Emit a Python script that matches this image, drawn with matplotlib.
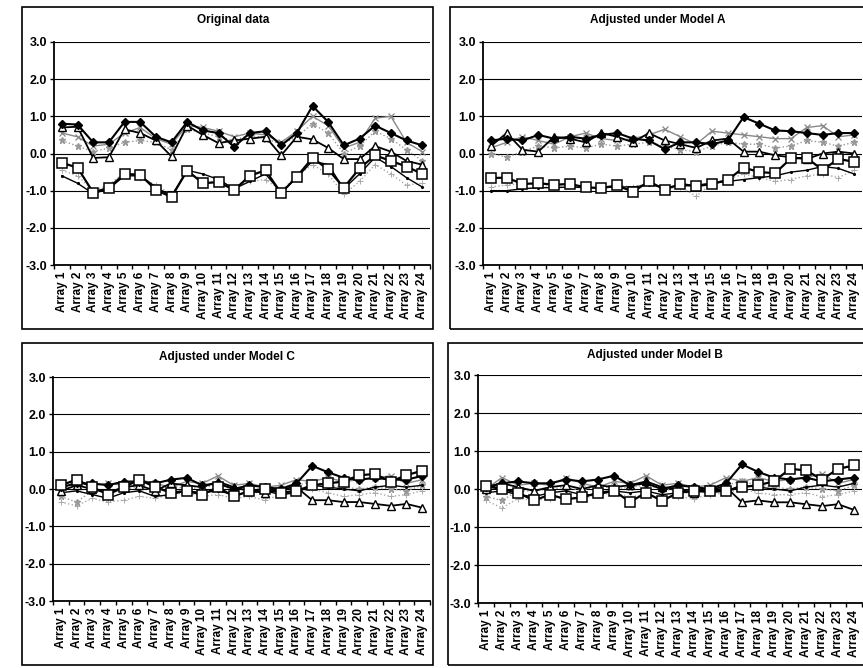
import numpy as np
import matplotlib
matplotlib.use("Agg")
import matplotlib.pyplot as plt
from matplotlib.patches import Rectangle

plt.rcParams['font.family'] = ['Liberation Sans', 'DejaVu Sans']

arrays = ["Array %d" % i for i in range(1, 25)]
yticks = [-3.0, -2.0, -1.0, 0.0, 1.0, 2.0, 3.0]

## Original data
orig_diamond = [0.80, 0.78, 0.30, 0.30, 0.85, 0.85, 0.45, 0.30, 0.85, 0.62, 0.55, 0.18,
                0.55, 0.60, 0.22, 0.55, 1.28, 0.85, 0.22, 0.40, 0.75, 0.55, 0.35, 0.22]
orig_triangle = [0.70, 0.72, -0.12, -0.10, 0.65, 0.55, 0.35, -0.08, 0.75, 0.50, 0.28, 0.35,
                 0.40, 0.45, -0.05, 0.45, 0.38, 0.15, -0.15, -0.15, 0.20, 0.05, -0.20, -0.30]
orig_square = [-0.25, -0.38, -1.05, -0.92, -0.55, -0.57, -0.98, -1.17, -0.46, -0.80, -0.77, -0.98,
               -0.60, -0.45, -1.07, -0.62, -0.12, -0.43, -0.92, -0.40, -0.05, -0.20, -0.35, -0.55]
orig_thin = [-0.60, -0.80, -1.08, -0.95, -0.60, -0.60, -0.90, -1.15, -0.45, -0.55, -0.70, -0.95,
             -0.75, -0.55, -1.05, -0.65, -0.20, -0.30, -0.95, -0.55, -0.10, -0.35, -0.65, -0.90]
orig_plus = [-0.45, -0.60, -1.00, -0.85, -0.50, -0.65, -0.85, -1.10, -0.50, -0.70, -0.80, -0.90,
             -0.75, -0.70, -1.00, -0.60, -0.30, -0.55, -1.10, -0.75, -0.30, -0.55, -0.85, -0.80]
orig_cross = [0.55, 0.45, 0.20, 0.25, 0.55, 0.70, 0.40, 0.25, 0.75, 0.70, 0.60, 0.45,
              0.55, 0.50, 0.30, 0.60, 1.00, 0.75, 0.15, 0.30, 0.95, 1.00, 0.30, 0.05]
orig_star = [0.35, 0.20, 0.05, 0.15, 0.30, 0.35, 0.30, 0.10, 0.65, 0.55, 0.45, 0.35,
             0.50, 0.40, 0.25, 0.45, 0.80, 0.55, 0.00, 0.20, 0.60, 0.40, 0.10, -0.20]

## Adjusted under Model A
a_diamond = [0.35, 0.40, 0.35, 0.50, 0.40, 0.45, 0.40, 0.50, 0.55, 0.40, 0.35, 0.12,
             0.30, 0.30, 0.25, 0.35, 0.98, 0.80, 0.62, 0.60, 0.55, 0.50, 0.55, 0.55]
a_triangle = [0.20, 0.55, 0.10, 0.05, 0.45, 0.40, 0.30, 0.55, 0.45, 0.30, 0.55, 0.35,
              0.25, 0.15, 0.35, 0.40, 0.05, 0.05, -0.05, -0.10, -0.15, 0.00, 0.05, 0.00]
a_square = [-0.66, -0.65, -0.82, -0.80, -0.84, -0.82, -0.91, -0.93, -0.86, -1.03, -0.75, -0.97,
            -0.82, -0.88, -0.82, -0.71, -0.38, -0.50, -0.53, -0.13, -0.12, -0.44, -0.15, -0.22]
a_thin = [-1.00, -1.00, -0.95, -0.92, -0.92, -0.90, -0.92, -0.92, -0.90, -0.90, -0.85, -0.90,
          -0.88, -0.85, -0.80, -0.75, -0.70, -0.65, -0.60, -0.50, -0.45, -0.35, -0.40, -0.55]
a_plus = [-0.90, -0.85, -0.80, -0.85, -0.90, -0.85, -0.95, -0.90, -0.85, -0.90, -0.80, -0.95,
          -0.90, -1.15, -0.80, -0.70, -0.55, -0.65, -0.75, -0.70, -0.60, -0.55, -0.65, -0.45]
a_cross = [0.15, 0.30, 0.45, 0.35, 0.25, 0.45, 0.55, 0.40, 0.35, 0.40, 0.50, 0.65,
           0.45, 0.25, 0.60, 0.55, 0.50, 0.45, 0.40, 0.40, 0.70, 0.75, 0.45, 0.50]
a_star = [0.00, -0.10, 0.05, 0.20, 0.15, 0.20, 0.15, 0.25, 0.20, 0.25, 0.30, 0.20,
          0.10, 0.05, 0.20, 0.30, 0.25, 0.25, 0.15, 0.20, 0.35, 0.30, 0.20, 0.30]

## Adjusted under Model C
c_diamond = [0.05, 0.15, 0.15, 0.10, 0.20, 0.20, 0.15, 0.25, 0.30, 0.10, 0.15, 0.00,
             0.10, 0.05, 0.00, 0.15, 0.62, 0.45, 0.30, 0.25, 0.30, 0.25, 0.25, 0.35]
c_triangle = [-0.05, 0.10, 0.00, -0.10, 0.05, 0.10, -0.05, 0.15, 0.10, 0.05, 0.20, 0.05,
              -0.05, -0.10, 0.00, 0.05, -0.30, -0.30, -0.35, -0.35, -0.40, -0.45, -0.40, -0.50]
c_square = [0.10, 0.25, 0.05, -0.15, 0.05, 0.25, 0.05, -0.10, -0.05, -0.15, 0.05, -0.20,
            -0.05, 0.00, -0.10, -0.05, 0.10, 0.15, 0.20, 0.37, 0.40, 0.20, 0.37, 0.49]
c_thin = [-0.10, -0.05, -0.15, -0.25, -0.10, -0.05, -0.20, -0.15, -0.05, -0.10, -0.05, -0.15,
          -0.10, -0.05, -0.15, -0.10, 0.10, 0.05, 0.00, -0.05, 0.05, 0.10, 0.05, 0.10]
c_plus = [-0.35, -0.45, -0.25, -0.35, -0.30, -0.20, -0.25, -0.15, -0.10, -0.20, -0.15, -0.25,
          -0.20, -0.30, -0.15, -0.10, 0.00, -0.10, -0.20, -0.15, -0.10, -0.20, -0.15, -0.05]
c_cross = [0.00, 0.20, 0.10, 0.15, 0.10, 0.25, 0.15, 0.05, 0.20, 0.15, 0.35, 0.10,
           0.15, 0.05, 0.10, 0.25, 0.20, 0.30, 0.20, 0.25, 0.30, 0.35, 0.15, 0.25]
c_star = [-0.20, -0.35, -0.05, -0.05, 0.00, 0.05, -0.05, 0.10, 0.00, 0.05, 0.10, 0.00,
          -0.05, -0.15, 0.05, 0.10, 0.20, 0.10, 0.05, 0.00, 0.05, 0.00, -0.05, 0.10]

## Adjusted under Model B
b_diamond = [0.05, 0.15, 0.20, 0.15, 0.15, 0.25, 0.20, 0.25, 0.35, 0.10, 0.15, 0.00,
             0.10, 0.05, 0.00, 0.15, 0.65, 0.45, 0.30, 0.25, 0.30, 0.20, 0.25, 0.30]
b_triangle = [0.00, 0.15, 0.05, -0.05, 0.05, 0.10, 0.00, 0.10, 0.05, 0.10, 0.20, 0.05,
              0.00, -0.10, 0.00, 0.05, -0.35, -0.30, -0.35, -0.35, -0.40, -0.45, -0.40, -0.55]
b_square = [0.07, 0.00, -0.10, -0.30, -0.15, -0.27, -0.22, -0.10, -0.05, -0.34, -0.10, -0.31,
            -0.10, -0.05, -0.05, -0.05, 0.05, 0.10, 0.20, 0.53, 0.49, 0.25, 0.53, 0.62]
b_thin = [-0.10, -0.05, -0.15, -0.20, -0.10, -0.05, -0.15, -0.15, -0.05, -0.10, -0.05, -0.15,
          -0.10, -0.05, -0.10, -0.05, 0.10, 0.05, 0.00, -0.05, 0.05, 0.10, 0.05, 0.15]
b_plus = [-0.30, -0.50, -0.25, -0.30, -0.25, -0.20, -0.25, -0.15, -0.10, -0.20, -0.15, -0.25,
          -0.20, -0.25, -0.15, -0.10, 0.00, -0.10, -0.15, -0.15, -0.10, -0.20, -0.15, -0.05]
b_cross = [0.00, 0.30, 0.10, 0.15, 0.10, 0.30, 0.15, 0.05, 0.20, 0.15, 0.35, 0.10,
           0.15, 0.05, 0.10, 0.30, 0.20, 0.30, 0.20, 0.25, 0.30, 0.40, 0.15, 0.25]
b_star = [-0.20, -0.30, -0.05, -0.05, 0.00, 0.05, -0.05, 0.10, 0.00, 0.05, 0.10, 0.00,
          -0.05, -0.15, 0.05, 0.10, 0.20, 0.10, 0.05, 0.00, 0.05, 0.00, -0.05, 0.10]

W, H = 863, 668
fig = plt.figure(figsize=(W / 100, H / 100), dpi=100)


def add_panel(box, area, title, title_xy, series):
    # box and area are (left, top, right, bottom) in pixels
    l, t, r, b = box
    fig.patches.append(Rectangle((l / W, 1 - b / H), (r - l) / W, (b - t) / H,
                                 transform=fig.transFigure, fill=False, lw=1.2, ec='black'))
    fig.text(title_xy[0] / W, 1 - title_xy[1] / H, title, ha='center', va='center',
             fontsize=8.5, fontweight='bold')
    l, t, r, b = area
    ax = fig.add_axes([l / W, 1 - b / H, (r - l) / W, (b - t) / H])
    x = np.arange(24)
    diamond, triangle, square, thin, plus, cross, star = series
    ax.plot(x, plus, color='#aaaaaa', lw=1.0, ls=':', marker='+', ms=4, mew=0.7)
    ax.plot(x, star, color='#999999', lw=1.0, ls=':', marker='*', ms=4.5)
    ax.plot(x, cross, color='#888888', lw=1.0, marker='x', ms=4.5, mew=0.9)
    ax.plot(x, thin, color='black', lw=1.0, marker='.', ms=2.5)
    ax.plot(x, triangle, color='black', lw=1.3, marker='^', ms=5.5, mfc='white', mec='black')
    ax.plot(x, diamond, color='black', lw=1.5, marker='D', ms=4.5, mfc='black')
    ax.plot(x, square, color='black', lw=1.6, marker='s', ms=6.5, mfc='white', mec='black', mew=1.1)

    ax.set_xlim(-0.5, 23.5)
    ax.set_ylim(-3, 3)
    ax.set_yticks(yticks)
    ax.set_yticklabels(["%.1f" % v for v in yticks], fontsize=9, fontweight='bold')
    ax.set_xticks(x)
    ax.set_xticklabels(arrays, rotation=90, fontsize=8.5, fontweight='bold')
    ax.set_xticks(np.arange(-0.5, 24, 1), minor=True)
    ax.tick_params(axis='x', which='major', length=0, pad=5)
    ax.tick_params(axis='x', which='minor', length=3, width=1, direction='out')
    ax.tick_params(axis='y', length=3, width=1, pad=2)
    ax.grid(axis='y', color='black', lw=0.8)
    ax.set_axisbelow(True)
    for s in ('top', 'right'):
        ax.spines[s].set_visible(False)
    for s in ('left', 'bottom'):
        ax.spines[s].set_linewidth(1.3)
    return ax


add_panel((22, 7, 433, 329), (54, 42, 430, 265), "Original data", (233, 20),
          (orig_diamond, orig_triangle, orig_square, orig_thin, orig_plus, orig_cross, orig_star))
add_panel((450, 7, 875, 329), (483, 42, 862, 265), "Adjusted under Model A", (658, 20),
          (a_diamond, a_triangle, a_square, a_thin, a_plus, a_cross, a_star))
add_panel((22, 343, 433, 665), (53, 377, 430, 601), "Adjusted under Model C", (227, 357),
          (c_diamond, c_triangle, c_square, c_thin, c_plus, c_cross, c_star))
add_panel((448, 343, 875, 665), (478, 375, 862, 603), "Adjusted under Model B", (655, 355),
          (b_diamond, b_triangle, b_square, b_thin, b_plus, b_cross, b_star))

fig.savefig("out.png", dpi=100)
